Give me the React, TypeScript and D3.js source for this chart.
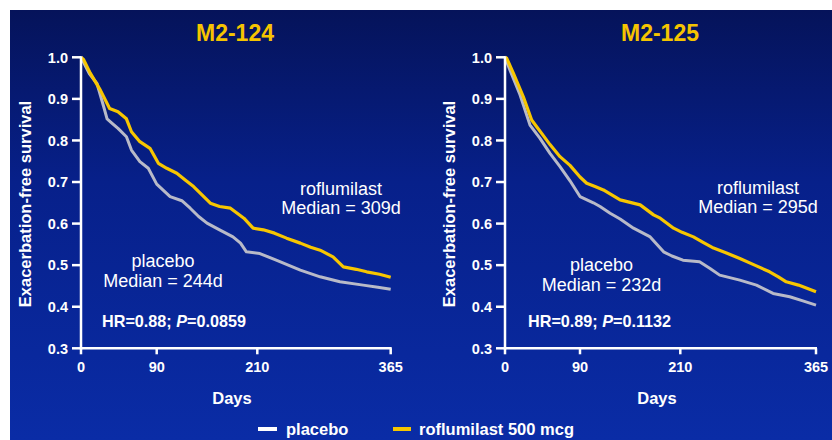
import React from "react";
import * as d3 from "d3";

// ---- data ----
const studyTitles = ["M2-124", "M2-125"];
const xTicks = [0, 90, 210, 365];
const yTicks = [0.3, 0.4, 0.5, 0.6, 0.7, 0.8, 0.9, 1.0];

const roflumilast124: [number, number][] = [
  [0, 1.0], [3, 0.995], [11, 0.962], [23, 0.921], [34, 0.877], [44, 0.869], [54, 0.852],
  [60, 0.821], [70, 0.797], [82, 0.781], [92, 0.745], [102, 0.733], [114, 0.721], [124, 0.705],
  [134, 0.689], [144, 0.669], [154, 0.649], [165, 0.641], [178, 0.637], [186, 0.625], [194, 0.613],
  [205, 0.589], [217, 0.585], [230, 0.577], [244, 0.565], [260, 0.553], [272, 0.543], [283, 0.536],
  [298, 0.52], [310, 0.496], [325, 0.49], [337, 0.484], [352, 0.478], [365, 0.471],
];
const placebo124: [number, number][] = [
  [0, 1.0], [10, 0.96], [19, 0.937], [27, 0.881], [31, 0.852], [36, 0.843], [44, 0.829],
  [54, 0.809], [60, 0.777], [70, 0.749], [80, 0.733], [90, 0.695], [106, 0.665], [120, 0.655],
  [130, 0.637], [140, 0.617], [150, 0.601], [165, 0.585], [181, 0.568], [190, 0.553], [197, 0.532],
  [213, 0.528], [232, 0.512], [246, 0.5], [260, 0.488], [283, 0.472], [306, 0.46], [333, 0.452],
  [350, 0.447], [365, 0.442],
];
const roflumilast125: [number, number][] = [
  [0, 1.0], [2, 0.998], [10, 0.962], [22, 0.905], [32, 0.849], [38, 0.833], [44, 0.817],
  [54, 0.79], [66, 0.761], [78, 0.74], [90, 0.712], [98, 0.697], [108, 0.689], [118, 0.681],
  [128, 0.669], [138, 0.657], [150, 0.651], [162, 0.645], [178, 0.621], [186, 0.613], [202, 0.589],
  [212, 0.579], [225, 0.568], [236, 0.555], [248, 0.541], [262, 0.53], [278, 0.516], [295, 0.5],
  [312, 0.484], [322, 0.472], [331, 0.46], [345, 0.452], [365, 0.436],
];
const placebo125: [number, number][] = [
  [0, 1.0], [6, 0.969], [18, 0.91], [30, 0.837], [42, 0.805], [54, 0.769], [66, 0.737],
  [78, 0.703], [90, 0.665], [106, 0.65], [114, 0.641], [126, 0.625], [138, 0.611], [154, 0.589],
  [174, 0.568], [190, 0.532], [200, 0.522], [213, 0.512], [232, 0.508], [244, 0.492], [255, 0.476],
  [278, 0.464], [297, 0.452], [316, 0.432], [335, 0.424], [350, 0.414], [365, 0.404],
];
const roflumilastMedians = ["Median = 309d", "Median = 295d"];
const placeboMedians = ["Median = 244d", "Median = 232d"];
const hrValues = ["0.88", "0.89"];
const pValues = ["0.0859", "0.1132"];
const legendLabels = ["placebo", "roflumilast 500 mcg"];

const FONT = "'Liberation Sans', Arial, Helvetica, sans-serif";
const YELLOW = "#f7c600";
const GREY = "#b8bac8";
const GOLD = "#f5c400";

type PanelProps = {
  idx: number;
  xRange: number[];
  rof: [number, number][];
  pla: [number, number][];
  titleX: number;
  ylabelX: number;
  daysX: number;
  rofX: number;
  rofY: number;
  plaX: number;
  plaY: number;
  hrX: number;
};

function Panel(p: PanelProps) {
  const x = d3.scaleLinear().domain(xTicks).range(p.xRange);
  const y = d3.scaleLinear().domain([0.3, 1.0]).range([348.3, 57.3]);
  const line = d3
    .line<[number, number]>()
    .x((d) => x(d[0]))
    .y((d) => y(d[1]))
    .curve(d3.curveLinear);
  const x0 = x(0);
  const x1 = x(365);
  const fmt = d3.format(".1f");
  return (
    <g>
      <text x={p.titleX} y={41} textAnchor="middle" fill={GOLD} fontSize={23} fontWeight="bold" fontFamily={FONT}>
        {studyTitles[p.idx]}
      </text>
      <text
        transform={`translate(${p.ylabelX},204) rotate(-90)`}
        textAnchor="middle"
        fill="#fff"
        fontSize={16.5}
        fontWeight="bold"
        fontFamily={FONT}
      >
        Exacerbation-free survival
      </text>
      {/* lines */}
      <path d={line(p.pla) || ""} fill="none" stroke={GREY} strokeWidth={3} strokeLinejoin="round" />
      <path d={line(p.rof) || ""} fill="none" stroke={YELLOW} strokeWidth={3.2} strokeLinejoin="round" />
      {/* axes */}
      <line x1={x0} x2={x0} y1={y(1.0) - 1} y2={y(0.3) + 1.2} stroke="#fff" strokeWidth={2.5} />
      <line x1={x0 - 1} x2={x1 + 1} y1={y(0.3)} y2={y(0.3)} stroke="#fff" strokeWidth={2.5} />
      {yTicks.map((t) => (
        <g key={t}>
          <line x1={x0 - 9} x2={x0} y1={y(t)} y2={y(t)} stroke="#fff" strokeWidth={2.5} />
          <text x={x0 - 13} y={y(t)} dy="0.36em" textAnchor="end" fill="#fff" fontSize={14.5} fontWeight="bold" fontFamily={FONT}>
            {fmt(t)}
          </text>
        </g>
      ))}
      {xTicks.map((t) => (
        <g key={t}>
          <line x1={x(t)} x2={x(t)} y1={y(0.3)} y2={y(0.3) + 6} stroke="#fff" strokeWidth={2.5} />
          <text x={x(t)} y={372} textAnchor="middle" fill="#fff" fontSize={14.5} fontWeight="bold" fontFamily={FONT}>
            {t}
          </text>
        </g>
      ))}
      <text x={p.daysX} y={404} textAnchor="middle" fill="#fff" fontSize={16.5} fontWeight="bold" fontFamily={FONT}>
        Days
      </text>
      {/* annotations */}
      <text x={p.rofX} y={p.rofY} textAnchor="middle" fill="#fff" fontSize={18} fontFamily={FONT}>
        roflumilast
      </text>
      <text x={p.rofX} y={p.rofY + 19} textAnchor="middle" fill="#fff" fontSize={18} fontFamily={FONT}>
        {roflumilastMedians[p.idx]}
      </text>
      <text x={p.plaX} y={p.plaY} textAnchor="middle" fill="#fff" fontSize={18} fontFamily={FONT}>
        placebo
      </text>
      <text x={p.plaX} y={p.plaY + 20} textAnchor="middle" fill="#fff" fontSize={18} fontFamily={FONT}>
        {placeboMedians[p.idx]}
      </text>
      <text x={p.hrX} y={327} fill="#fff" fontSize={16.2} fontWeight="bold" fontFamily={FONT}>
        {`HR=${hrValues[p.idx]}; `}
        <tspan fontStyle="italic">P</tspan>
        {`=${pValues[p.idx]}`}
      </text>
    </g>
  );
}

export default function App() {
  return (
    <svg width={832} height={440} style={{ position: "absolute", left: 0, top: 0 }}>
      <defs>
        <linearGradient id="bg" x1="0" y1="0" x2="0" y2="1">
          <stop offset="0%" stopColor="#05135a" />
          <stop offset="40%" stopColor="#07208a" />
          <stop offset="100%" stopColor="#0a2ca6" />
        </linearGradient>
      </defs>
      <rect x={0} y={0} width={832} height={440} fill="#fff" />
      <rect x={10} y={10} width={822} height={430} fill="url(#bg)" />
      <Panel
        idx={0}
        xRange={[81, 156.7, 257.3, 390.7]}
        rof={roflumilast124}
        pla={placebo124}
        titleX={235}
        ylabelX={31}
        daysX={232}
        rofX={341}
        rofY={195}
        plaX={163}
        plaY={267}
        hrX={102}
      />
      <Panel
        idx={1}
        xRange={[505, 580, 680.3, 816]}
        rof={roflumilast125}
        pla={placebo125}
        titleX={660}
        ylabelX={455}
        daysX={657}
        rofX={758}
        rofY={194}
        plaX={601.5}
        plaY={271}
        hrX={528}
      />
      {/* legend */}
      <line x1={258} x2={277} y1={429} y2={429} stroke="#fff" strokeWidth={4} />
      <text x={286} y={435} fill="#fff" fontSize={16.5} fontWeight="bold" fontFamily={FONT}>
        {legendLabels[0]}
      </text>
      <line x1={393} x2={411} y1={429} y2={429} stroke={YELLOW} strokeWidth={4} />
      <text x={419} y={435} fill="#fff" fontSize={16.5} fontWeight="bold" fontFamily={FONT}>
        {legendLabels[1]}
      </text>
    </svg>
  );
}
